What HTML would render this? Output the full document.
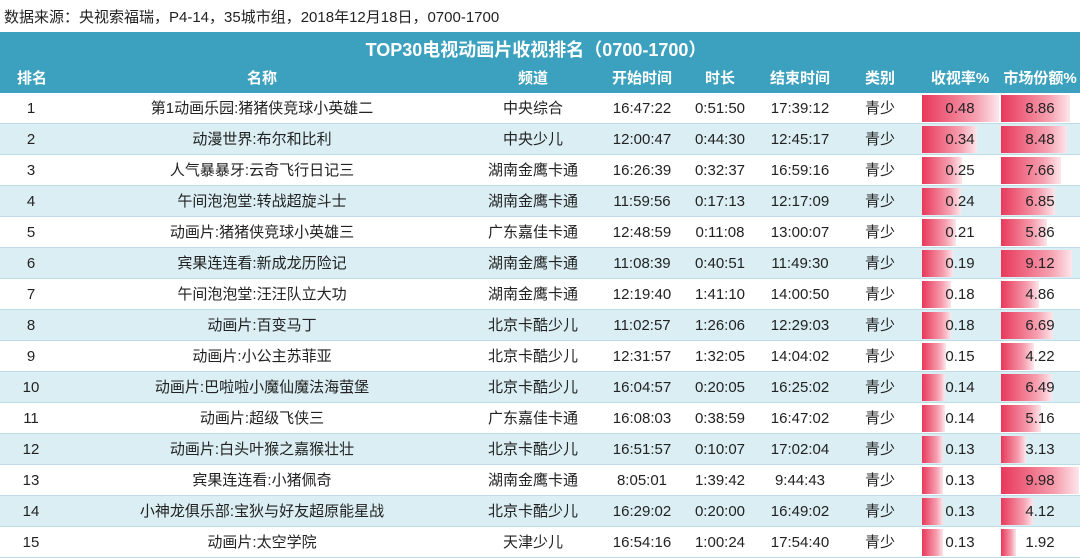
<!DOCTYPE html>
<html><head><meta charset="utf-8">
<style>
*{margin:0;padding:0;box-sizing:border-box}
body{width:1080px;height:558px;overflow:hidden;background:#fff;font-family:"Liberation Sans","Microsoft YaHei","Noto Sans CJK SC",sans-serif;color:#222;position:relative}
.src{position:absolute;left:4px;top:6px;font-size:15px;color:#222;white-space:nowrap}
.hdr{position:absolute;left:0;top:32px;width:1080px;height:61px;background:#3ba1be}
.title{position:absolute;left:0;width:1072px;top:4px;text-align:center;color:#fff;font-weight:bold;font-size:18px}
.c{position:absolute;text-align:center;white-space:nowrap}
.hrow .c{top:35px;color:#fff;font-weight:bold;font-size:15px}
.row{position:absolute;left:0;width:1080px;height:31px;border-bottom:1px solid #bcdde8}
.row.alt{background:#daeef3}
.row .c{top:6px;font-size:15px;line-height:20px}
.bar{position:absolute;top:2px;height:27px;background:linear-gradient(to right,#e8385a,#f6a0b0 70%,#fde6eb)}
</style></head><body>
<div class="src">数据来源：央视索福瑞，P4-14，35城市组，2018年12月18日，0700-1700</div>
<div class="hdr"><div class="title">TOP30电视动画片收视排名（0700-1700）</div>
<div class="hrow">
<div class="c" style="left:0;width:64px">排名</div>
<div class="c" style="left:62px;width:400px">名称</div>
<div class="c" style="left:462px;width:142px">频道</div>
<div class="c" style="left:604px;width:76px">开始时间</div>
<div class="c" style="left:680px;width:80px">时长</div>
<div class="c" style="left:760px;width:80px">结束时间</div>
<div class="c" style="left:840px;width:80px">类别</div>
<div class="c" style="left:920px;width:80px">收视率%</div>
<div class="c" style="left:1000px;width:80px">市场份额%</div>
</div></div>
<div id="rows"></div>
<script>
var d=[
[1,"第1动画乐园:猪猪侠竞球小英雄二","中央综合","16:47:22","0:51:50","17:39:12",0.48,8.86],
[2,"动漫世界:布尔和比利","中央少儿","12:00:47","0:44:30","12:45:17",0.34,8.48],
[3,"人气暴暴牙:云奇飞行日记三","湖南金鹰卡通","16:26:39","0:32:37","16:59:16",0.25,7.66],
[4,"午间泡泡堂:转战超旋斗士","湖南金鹰卡通","11:59:56","0:17:13","12:17:09",0.24,6.85],
[5,"动画片:猪猪侠竞球小英雄三","广东嘉佳卡通","12:48:59","0:11:08","13:00:07",0.21,5.86],
[6,"宾果连连看:新成龙历险记","湖南金鹰卡通","11:08:39","0:40:51","11:49:30",0.19,9.12],
[7,"午间泡泡堂:汪汪队立大功","湖南金鹰卡通","12:19:40","1:41:10","14:00:50",0.18,4.86],
[8,"动画片:百变马丁","北京卡酷少儿","11:02:57","1:26:06","12:29:03",0.18,6.69],
[9,"动画片:小公主苏菲亚","北京卡酷少儿","12:31:57","1:32:05","14:04:02",0.15,4.22],
[10,"动画片:巴啦啦小魔仙魔法海萤堡","北京卡酷少儿","16:04:57","0:20:05","16:25:02",0.14,6.49],
[11,"动画片:超级飞侠三","广东嘉佳卡通","16:08:03","0:38:59","16:47:02",0.14,5.16],
[12,"动画片:白头叶猴之嘉猴壮壮","北京卡酷少儿","16:51:57","0:10:07","17:02:04",0.13,3.13],
[13,"宾果连连看:小猪佩奇","湖南金鹰卡通","8:05:01","1:39:42","9:44:43",0.13,9.98],
[14,"小神龙俱乐部:宝狄与好友超原能星战","北京卡酷少儿","16:29:02","0:20:00","16:49:02",0.13,4.12],
[15,"动画片:太空学院","天津少儿","16:54:16","1:00:24","17:54:40",0.13,1.92]];
var h="";
d.forEach(function(r,i){
var y=93+i*31;
h+='<div class="row'+(i%2?' alt':'')+'" style="top:'+y+'px">'+
'<div class="c" style="left:0;width:62px">'+r[0]+'</div>'+
'<div class="c" style="left:62px;width:400px">'+r[1]+'</div>'+
'<div class="c" style="left:462px;width:142px">'+r[2]+'</div>'+
'<div class="c" style="left:604px;width:76px">'+r[3]+'</div>'+
'<div class="c" style="left:680px;width:80px">'+r[4]+'</div>'+
'<div class="c" style="left:760px;width:80px">'+r[5]+'</div>'+
'<div class="c" style="left:840px;width:80px">青少</div>'+
'<div class="bar" style="left:922px;width:'+(r[6]/0.48*77).toFixed(1)+'px"></div>'+
'<div class="bar" style="left:1001px;width:'+(r[7]/9.98*78).toFixed(1)+'px"></div>'+
'<div class="c" style="left:920px;width:80px">'+r[6].toFixed(2)+'</div>'+
'<div class="c" style="left:1000px;width:80px">'+r[7].toFixed(2)+'</div>'+
'</div>';});
document.getElementById("rows").innerHTML=h;
</script>
</body></html>
